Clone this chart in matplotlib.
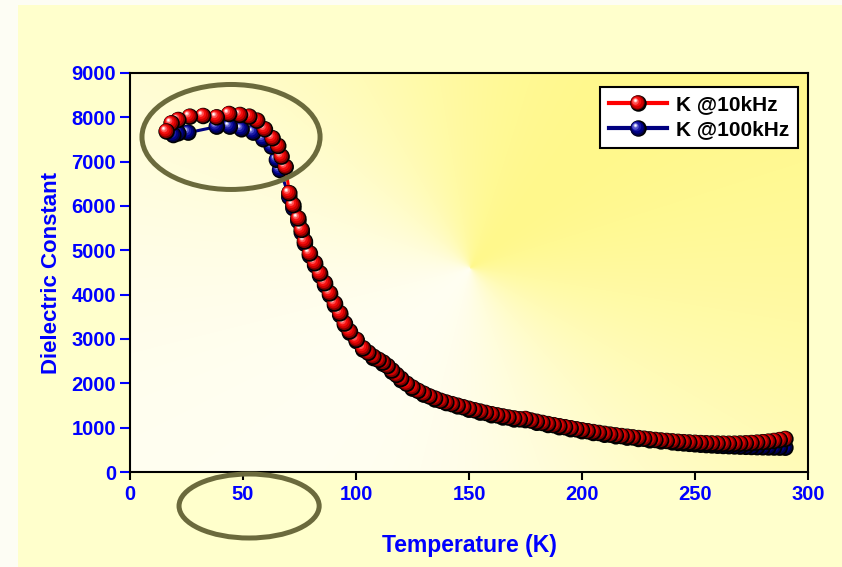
import numpy as np
import matplotlib
matplotlib.use("Agg")
import matplotlib.pyplot as plt
from matplotlib.patches import Ellipse, Rectangle
from matplotlib.lines import Line2D
from matplotlib.legend_handler import HandlerBase

plt.rcParams['font.family'] = ['Liberation Sans', 'DejaVu Sans']
plt.rcParams['font.weight'] = 'bold'
plt.rcParams['axes.labelweight'] = 'bold'

# --- data ---
temp_10k = [16.2, 18.4, 21.4, 26.5, 32.4, 38.4, 43.9, 48.7, 52.8, 56.3, 59.7, 63.1, 65.6, 67.1, 68.9,
            70.5, 72.3, 74.5, 76.0, 77.4, 79.6, 81.9, 84.1, 86.3, 88.5, 90.7, 93.0, 95.1, 97.3,
            100.3, 103.2, 105.5, 107.7, 110, 112, 114, 116, 118,
            120, 122.5, 125, 127.5, 130, 132.5, 135, 137.5, 140, 142.5, 145, 147.5, 150, 152.5,
            155, 157.5, 160, 162.5, 165, 167.5, 170, 172.5, 175, 177.5, 180, 182.5, 185, 187.5,
            190, 192.5, 195, 197.5, 200, 202.5, 205, 207.5, 210, 212.5, 215, 217.5, 220, 222.5,
            225, 227.5, 230, 232.5, 235, 237.5, 240, 242.5, 245, 247.5, 250, 252.5, 255, 257.5,
            260, 262.5, 265, 267.5, 270, 272.5, 275, 277.5, 280, 282.5, 285, 287.5, 290]
k_10k = [7680, 7865, 7940, 8015, 8030, 8000, 8075, 8053, 8015, 7925, 7730, 7528, 7354, 7113, 6880,
         6290, 6020, 5720, 5460, 5200, 4930, 4710, 4480, 4260, 4030, 3800, 3580, 3350, 3170,
         2980, 2790, 2690, 2600, 2530, 2470, 2390, 2290, 2190,
         2100, 1990, 1905, 1830, 1765, 1705, 1655, 1605, 1565, 1530, 1495, 1460, 1425, 1392,
         1362, 1332, 1303, 1277, 1252, 1228, 1207, 1188, 1195, 1160, 1132, 1106, 1080, 1056,
         1032, 1010, 987, 963, 940, 920, 900, 880, 860, 842, 825, 810, 795, 780,
         765, 750, 735, 722, 710, 700, 690, 680, 672, 665, 658, 652, 647, 643,
         640, 638, 637, 638, 641, 646, 653, 662, 672, 684, 700, 720, 745]

temp_100k = [19.2, 21.4, 25.8, 38.4, 44.2, 49.4, 54.6, 59.0, 62.7, 65.0, 66.4,
             70.5, 72.3, 74.5, 76.0, 77.4, 79.6, 81.9, 84.1, 86.3, 88.5, 90.7, 93.0, 95.1, 97.3,
             100.3, 103.2, 107.7, 112, 116, 120, 125, 130, 135, 140, 145, 150, 155, 160, 165,
             170, 175, 180, 185, 190, 195, 200, 205, 210, 215, 220, 225, 230, 235, 240,
             242.5, 245, 247.5, 250, 252.5, 255, 257.5, 260, 262.5, 265, 267.5, 270, 272.5,
             275, 277.5, 280, 282.5, 285, 287.5, 290]
k_100k = [7600, 7640, 7655, 7790, 7790, 7730, 7655, 7505, 7340, 7040, 6810,
          6200, 5950, 5660, 5400, 5150, 4880, 4660, 4430, 4210, 3990, 3760, 3540, 3320, 3140,
          2950, 2760, 2570, 2440, 2260, 2070, 1880, 1745, 1635, 1555, 1480, 1405, 1340, 1280, 1230,
          1185, 1170, 1110, 1060, 1010, 965, 920, 880, 840, 805, 775, 745, 715, 690, 668,
          655, 645, 635, 625, 615, 607, 600, 593, 587, 582, 577, 572, 568,
          564, 560, 557, 554, 552, 550, 548]

x_ticks = [0, 50, 100, 150, 200, 250, 300]
y_ticks = [0, 1000, 2000, 3000, 4000, 5000, 6000, 7000, 8000, 9000]

# highlight ellipses (data units)
ring_peak = (44.7, 7557, 78.8, 2368)
ring_axis = (52.7, -767, 62.0, 1444)

blue_txt = '#0000ff'
ring_col = '#6b6a3c'

# sphere layers: (size fraction, dx px, dy px, color)
red_layers = [(1.0, 0.0, 0.0, '#000000'), (0.87, -0.6, 0.6, '#800000'),
              (0.74, -1.2, 1.2, '#d00000'), (0.58, -1.9, 1.9, '#f51010'),
              (0.40, -2.5, 2.5, '#ff5050'), (0.24, -3.0, 3.0, '#ffb0b0'),
              (0.12, -3.2, 3.2, '#ffffff')]
blue_layers = [(1.0, 0.0, 0.0, '#000000'), (0.87, -0.6, 0.6, '#00004a'),
               (0.74, -1.2, 1.2, '#000084'), (0.58, -1.9, 1.9, '#1a1aa4'),
               (0.40, -2.5, 2.5, '#5252cc'), (0.24, -3.0, 3.0, '#aaaaea'),
               (0.12, -3.2, 3.2, '#ffffff')]
ball_px = 16.5

fig = plt.figure(figsize=(8.42, 5.67), dpi=100, facecolor='#fdfdf4')
fig.patches.append(Rectangle((18 / 842, 0), 1, 1 - 5 / 567, transform=fig.transFigure,
                             facecolor='#ffffcc', edgecolor='none', zorder=-10))
ax = fig.add_axes([130 / 842, 95 / 567, 678 / 842, 399 / 567])
ax.set_xlim(0, 300)
ax.set_ylim(0, 9000)

# conical yellow/white background
ny, nx = 399, 678
yy, xx = np.mgrid[0:ny, 0:nx]
ang = np.arctan2(-(yy - 195.0), xx - 340.0)
w = (1 + np.cos(ang - np.pi / 4)) / 2
w = 0.12 + 0.88 * w ** 1.2
yellow = np.array([1.0, 0.975, 0.55])
img = 1 - w[..., None] * (1 - yellow)
ax.imshow(img, extent=[0, 300, 0, 9000], aspect='auto', origin='upper', zorder=0)


def spheres(temps, vals, layers, z):
    pts = ax.transData.transform(np.column_stack([temps, vals]))
    order = np.argsort(temps)[::-1]
    xs, ys, ss, cs = [], [], [], []
    for i in order:
        for frac, dx, dy, col in layers:
            xs.append(pts[i, 0] + dx)
            ys.append(pts[i, 1] + dy)
            ss.append((ball_px * frac * 0.72) ** 2)
            cs.append(col)
    back = ax.transData.inverted().transform(np.column_stack([xs, ys]))
    ax.scatter(back[:, 0], back[:, 1], s=ss, c=cs, linewidths=0, zorder=z)


ax.plot(temp_100k, k_100k, color='#000080', lw=2.2, zorder=2)
spheres(temp_100k, k_100k, blue_layers, 3)
ax.plot(temp_10k, k_10k, color='#ff0000', lw=2.2, zorder=4)
spheres(temp_10k, k_10k, red_layers, 5)

for cx, cy, ew, eh in (ring_peak, ring_axis):
    ax.add_patch(Ellipse((cx, cy), ew, eh, fill=False, edgecolor=ring_col, lw=3.6,
                         zorder=10, clip_on=False))

ax.set_xticks(x_ticks)
ax.set_yticks(y_ticks)
ax.tick_params(axis='x', direction='out', length=6, width=1.5, color='black',
               labelcolor=blue_txt, labelsize=14.5, pad=3)
ax.tick_params(axis='y', direction='out', length=7, width=1.5, color=blue_txt,
               labelcolor=blue_txt, labelsize=14.5, pad=3)
for sp in ax.spines.values():
    sp.set_linewidth(1.5)
    sp.set_color('black')
ax.set_xlabel('Temperature (K)', fontsize=16.5, color=blue_txt, labelpad=22)
ax.set_ylabel('Dielectric Constant', fontsize=16, color=blue_txt, labelpad=7)


class SphereHandler(HandlerBase):
    def __init__(self, line_col, layers):
        super().__init__()
        self.line_col = line_col
        self.layers = layers

    def create_artists(self, legend, orig_handle, xdescent, ydescent, width, height,
                       fontsize, trans):
        y = height / 2 - ydescent
        cx = width / 2 - xdescent
        arts = [Line2D([-xdescent, width - xdescent], [y, y], color=self.line_col, lw=3)]
        for frac, dx, dy, col in self.layers:
            arts.append(Line2D([cx + dx * 0.72], [y + dy * 0.72], marker='o', linestyle='none',
                               markersize=ball_px * frac * 0.72, markerfacecolor=col,
                               markeredgewidth=0))
        for a in arts:
            a.set_transform(trans)
        return arts


h_red = Line2D([], [], color='red')
h_blue = Line2D([], [], color='navy')
leg = ax.legend([h_red, h_blue], ['K @10kHz', 'K @100kHz'],
                handler_map={h_red: SphereHandler('#ff0000', red_layers),
                             h_blue: SphereHandler('#000080', blue_layers)},
                loc='upper right', bbox_to_anchor=(0.985, 0.965), fontsize=15,
                frameon=True, fancybox=False, edgecolor='black', facecolor='white',
                framealpha=1, handlelength=2.8, handletextpad=0.45, labelspacing=0.3,
                borderpad=0.4, borderaxespad=0)
leg.get_frame().set_linewidth(1.5)
leg.set_zorder(20)

fig.savefig('out.png', dpi=100, facecolor=fig.get_facecolor())
